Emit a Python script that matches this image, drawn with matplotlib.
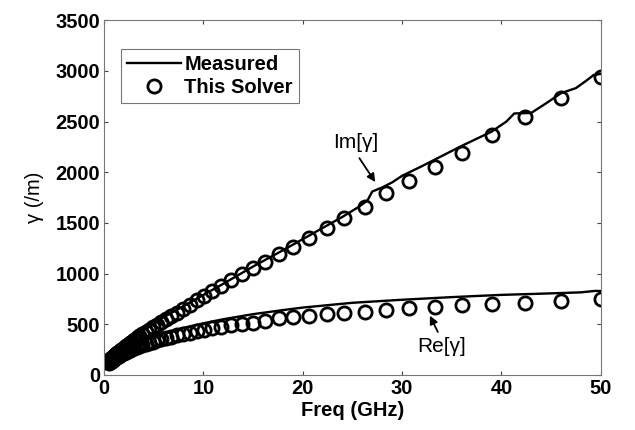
import matplotlib
matplotlib.use('Agg')
import matplotlib.pyplot as plt

plt.rcParams['font.family'] = ['Liberation Sans', 'DejaVu Sans']
plt.rcParams['font.weight'] = 'bold'

# Measured curves (line)
meas_f_im = [0, 1, 2, 4, 6, 8, 10, 12, 15, 18, 20, 22, 24, 25.5, 26.5, 27, 28, 29, 30,
             32, 34, 36, 37.5, 39, 40.5, 41.3, 43, 44.5, 46, 47.5, 48.5, 49.3, 50]
meas_im = [100, 200, 290, 440, 570, 680, 790, 900, 1070, 1230, 1340, 1450, 1560, 1650, 1720,
           1810, 1850, 1900, 1965, 2060, 2160, 2260, 2330, 2400, 2500, 2580, 2585, 2680,
           2780, 2830, 2900, 2960, 2970]
meas_f_re = [0, 1, 2, 4, 6, 8, 10, 12, 15, 18, 20, 25, 30, 35, 40, 45, 48, 49.5, 50]
meas_re = [90, 170, 240, 340, 410, 465, 510, 550, 600, 640, 665, 712, 742, 768, 790, 805,
           815, 830, 828]

# Solver results (circles)
solver_f = [50.0, 46.0, 42.4, 39.1, 36.0, 33.3, 30.7, 28.4, 26.3, 24.2, 22.4, 20.6, 19.0,
            17.6, 16.2, 15.0, 13.9, 12.8, 11.8, 10.9, 10.1, 9.3, 8.6, 7.9, 7.3, 6.7, 6.2,
            5.7, 5.3, 4.9, 4.5, 4.2, 3.8, 3.5, 3.3, 3.0, 2.8, 2.6, 2.4, 2.2, 2.0, 1.85, 1.7,
            1.57, 1.45, 1.33, 1.23, 1.13, 1.04, 0.96, 0.89, 0.82, 0.75, 0.7, 0.64, 0.59,
            0.55, 0.5]
solver_im = [2940, 2730, 2545, 2365, 2190, 2050, 1915, 1795, 1660, 1550, 1450, 1350, 1265,
             1190, 1115, 1055, 995, 935, 875, 825, 780, 735, 690, 650, 615, 580, 550, 520,
             495, 470, 445, 425, 400, 380, 365, 345, 330, 315, 300, 285, 270, 258, 246, 235,
             225, 215, 206, 197, 190, 183, 176, 170, 164, 159, 154, 150, 146, 142]
solver_re = [750, 730, 712, 700, 690, 672, 660, 642, 622, 612, 602, 584, 572, 562, 535, 515,
             503, 493, 475, 460, 448, 432, 418, 403, 390, 377, 365, 352, 340, 328, 316, 306,
             294, 284, 276, 265, 256, 248, 239, 230, 220, 212, 204, 197, 190, 182, 175, 168,
             162, 156, 150, 145, 140, 136, 131, 127, 123, 120]

fig = plt.figure(figsize=(6.35, 4.3), dpi=100)
ax = fig.add_axes([0.164, 0.128, 0.782, 0.825])

ax.plot(meas_f_im, meas_im, color='black', lw=1.7, label='Measured')
ax.plot(meas_f_re, meas_re, color='black', lw=1.7)
ax.plot(solver_f, solver_im, 'o', ms=9.5, mfc='none', mec='black', mew=2.0,
        label='This Solver')
ax.plot(solver_f, solver_re, 'o', ms=9.5, mfc='none', mec='black', mew=2.0)

ax.set_xlim(0, 50)
ax.set_ylim(0, 3500)
ax.set_xticks([0, 10, 20, 30, 40, 50])
ax.set_yticks(range(0, 3501, 500))
ax.tick_params(direction='in', top=True, right=True, length=3, width=0.8,
               labelsize=14.5, color='#444444', pad=3)
for s in ax.spines.values():
    s.set_color('#777777')
    s.set_linewidth(0.8)

ax.set_xlabel('Freq (GHz)', fontsize=14.5, fontweight='bold', labelpad=2)
ax.set_ylabel('γ (/m)', fontsize=14.5, fontweight='normal', labelpad=8)

arrow = dict(arrowstyle='-|>', color='black', lw=1.3, mutation_scale=12,
             shrinkA=0, shrinkB=0)
ax.text(25.3, 2297, 'Im[γ]', fontsize=15, fontweight='normal', ha='center', va='center')
ax.annotate('', xy=(27.3, 1903), xytext=(25.7, 2139), arrowprops=arrow)
ax.text(34.0, 276, 'Re[γ]', fontsize=15, fontweight='normal', ha='center', va='center')
ax.annotate('', xy=(32.8, 585), xytext=(33.6, 424), arrowprops=arrow)

leg = ax.legend(loc='upper left', bbox_to_anchor=(0.034, 0.92), fontsize=14.5,
                fancybox=False, frameon=True, handlelength=2.7, handletextpad=0.15,
                borderpad=0.3, labelspacing=0.2, borderaxespad=0)
leg.get_frame().set_edgecolor('#555555')
leg.get_frame().set_linewidth(0.8)

fig.savefig('out.png', dpi=100)
